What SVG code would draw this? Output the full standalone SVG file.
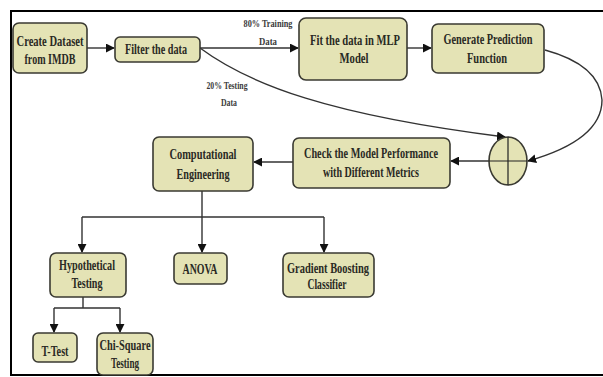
<svg xmlns="http://www.w3.org/2000/svg" width="603" height="377" viewBox="0 0 603 377">
<style>
.box{fill:#e4e3b5;stroke:#3a3a32;stroke-width:1.6}
.t{font-family:"Liberation Serif","Times New Roman",serif;font-weight:bold;font-size:15px;fill:#2a2a24;text-anchor:middle}
.s{font-family:"Liberation Serif","Times New Roman",serif;font-weight:bold;font-size:11px;fill:#3a3a3a;text-anchor:middle}
.c{fill:none;stroke:#333;stroke-width:1.4}
.frame{fill:none;stroke:#000;stroke-width:2}
</style>
<defs>
<marker id="ah" viewBox="0 0 10 10" refX="9" refY="5" markerWidth="9" markerHeight="9" markerUnits="userSpaceOnUse" orient="auto">
<path d="M0,0 L10,5 L0,10 z" fill="#111"/>
</marker>
</defs>
<rect width="603" height="377" fill="#fff"/>
<path class="frame" d="M603,11 H11 V375 H603"/>
<g id="connectors">
<line class="c" x1="87" y1="48" x2="114" y2="48" marker-end="url(#ah)"/>
<line class="c" x1="200" y1="48" x2="298" y2="48" marker-end="url(#ah)"/>
<line class="c" x1="407" y1="48" x2="431" y2="48" marker-end="url(#ah)"/>
<path class="c" d="M200,48 C250,85 330,115 505,137" marker-end="url(#ah)"/>
<path class="c" d="M545,50 Q600,65 602,100 Q602,140 528,161" marker-end="url(#ah)"/>
<line class="c" x1="489" y1="161" x2="451" y2="161" marker-end="url(#ah)"/>
<line class="c" x1="293" y1="162" x2="254" y2="162" marker-end="url(#ah)"/>
<path class="c" d="M202,191 V217 M82,217 H324"/>
<line class="c" x1="82" y1="217" x2="82" y2="252" marker-end="url(#ah)"/>
<line class="c" x1="202" y1="217" x2="202" y2="252" marker-end="url(#ah)"/>
<line class="c" x1="324" y1="217" x2="324" y2="252" marker-end="url(#ah)"/>
<path class="c" d="M83,297 V308 M54,308 H120"/>
<line class="c" x1="54" y1="308" x2="54" y2="332" marker-end="url(#ah)"/>
<line class="c" x1="120" y1="308" x2="120" y2="332" marker-end="url(#ah)"/>
<text class="s" x="268" y="27" textLength="49" lengthAdjust="spacingAndGlyphs">80% Training</text>
<text class="s" x="268" y="45" textLength="18" lengthAdjust="spacingAndGlyphs">Data</text>
<text class="s" x="227" y="89" textLength="41" lengthAdjust="spacingAndGlyphs">20% Testing</text>
<text class="s" x="229" y="106" textLength="16" lengthAdjust="spacingAndGlyphs">Data</text>
</g>
<g id="create">
<rect class="box" x="13" y="23" width="74" height="50" rx="6"/>
<text class="t" x="50" y="46" textLength="67" lengthAdjust="spacingAndGlyphs">Create Dataset</text>
<text class="t" x="50" y="64" textLength="51" lengthAdjust="spacingAndGlyphs">from IMDB</text>
</g>
<g id="filter">
<rect class="box" x="115" y="37" width="85" height="25" rx="5"/>
<text class="t" x="156" y="54" textLength="62" lengthAdjust="spacingAndGlyphs">Filter the data</text>
</g>
<g id="fit">
<rect class="box" x="299" y="18" width="108" height="62" rx="7"/>
<text class="t" x="355" y="45" textLength="90" lengthAdjust="spacingAndGlyphs">Fit the data in MLP</text>
<text class="t" x="354" y="63" textLength="29" lengthAdjust="spacingAndGlyphs">Model</text>
</g>
<g id="generate">
<rect class="box" x="432" y="24" width="112" height="49" rx="6"/>
<text class="t" x="488" y="44" textLength="89" lengthAdjust="spacingAndGlyphs">Generate Prediction</text>
<text class="t" x="487" y="63" textLength="40" lengthAdjust="spacingAndGlyphs">Function</text>
</g>
<g id="sum">
<ellipse class="box" cx="508" cy="161" rx="19" ry="24"/>
<path d="M508,137 V185 M489,161 H527" stroke="#222" stroke-width="1.2"/>
</g>
<g id="check">
<rect class="box" x="293" y="138" width="157" height="50" rx="6"/>
<text class="t" x="371" y="158" textLength="134" lengthAdjust="spacingAndGlyphs">Check the Model Performance</text>
<text class="t" x="371" y="177" textLength="96" lengthAdjust="spacingAndGlyphs">with Different Metrics</text>
</g>
<g id="computational">
<rect class="box" x="153" y="137" width="100" height="54" rx="6"/>
<text class="t" x="203" y="159" textLength="67" lengthAdjust="spacingAndGlyphs">Computational</text>
<text class="t" x="203" y="179" textLength="53" lengthAdjust="spacingAndGlyphs">Engineering</text>
</g>
<g id="hypothetical">
<rect class="box" x="50" y="253" width="76" height="44" rx="6"/>
<text class="t" x="87" y="270" textLength="56" lengthAdjust="spacingAndGlyphs">Hypothetical</text>
<text class="t" x="87" y="288" textLength="31" lengthAdjust="spacingAndGlyphs">Testing</text>
</g>
<g id="anova">
<rect class="box" x="174" y="253" width="53" height="31" rx="5"/>
<text class="t" x="200" y="274" textLength="35" lengthAdjust="spacingAndGlyphs">ANOVA</text>
</g>
<g id="gradient">
<rect class="box" x="283" y="253" width="91" height="44" rx="6"/>
<text class="t" x="328" y="273" textLength="82" lengthAdjust="spacingAndGlyphs">Gradient Boosting</text>
<text class="t" x="327" y="289" textLength="39" lengthAdjust="spacingAndGlyphs">Classifier</text>
</g>
<g id="ttest">
<rect class="box" x="33" y="333" width="44" height="29" rx="5"/>
<text class="t" x="55" y="356" textLength="27" lengthAdjust="spacingAndGlyphs">T-Test</text>
</g>
<g id="chisquare">
<rect class="box" x="97" y="333" width="56" height="42" rx="6"/>
<text class="t" x="125" y="350" textLength="51" lengthAdjust="spacingAndGlyphs">Chi-Square</text>
<text class="t" x="125" y="368" textLength="28" lengthAdjust="spacingAndGlyphs">Testing</text>
</g>
</svg>
